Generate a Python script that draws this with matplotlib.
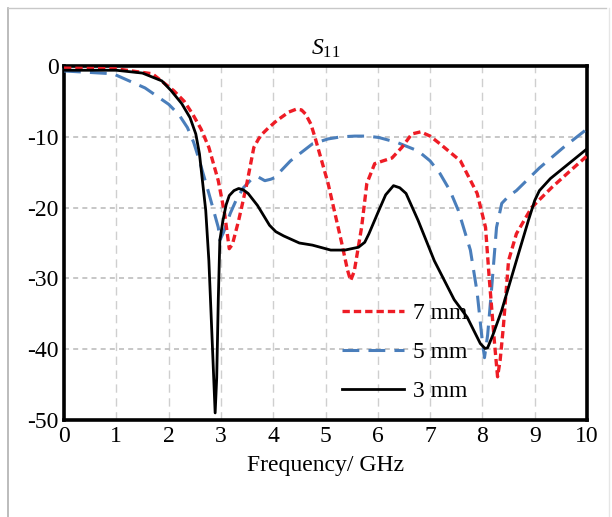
import matplotlib
matplotlib.use("Agg")
import matplotlib.pyplot as plt
from matplotlib.lines import Line2D

plt.rcParams['font.family'] = ['Liberation Serif', 'DejaVu Serif']
plt.rcParams['mathtext.fontset'] = 'custom'
plt.rcParams['mathtext.rm'] = 'Liberation Serif'
plt.rcParams['mathtext.it'] = 'Liberation Serif:italic'
plt.rcParams['axes.unicode_minus'] = False

# ---- data ----
f_3mm = [0, 1, 1.5, 1.87, 2.05, 2.25, 2.41, 2.52, 2.59, 2.71, 2.77, 2.84, 2.89, 2.92, 2.95, 2.98, 3.04, 3.1, 3.16,
         3.25, 3.34, 3.43, 3.52, 3.7, 3.93, 4.05, 4.2, 4.5, 4.75, 5.1, 5.37, 5.63, 5.75, 5.83, 6.02, 6.15, 6.3, 6.42, 6.54, 6.77,
         7.08, 7.46, 7.71, 7.96, 8.05, 8.1, 8.2, 8.37, 8.65, 8.88, 9.0, 9.09, 9.3, 9.55, 10]
s_3mm = [-0.6, -0.6, -1.0, -2.1, -3.5, -5.3, -7.3, -9.6, -12.4, -20.4, -27.5, -40, -49, -44, -33, -24.6, -21.8, -19.6, -18.3,
         -17.6, -17.3, -17.5, -18.0, -19.7, -22.5, -23.4, -24.0, -25.0, -25.3, -26.0, -26.0, -25.6, -24.9, -23.7, -20.4, -18.2, -16.9, -17.2, -18.0, -21.8,
         -27.5, -33.0, -35.5, -39.2, -39.9, -39.8, -38.0, -34.5, -27.5, -21.8, -19.0, -17.6, -15.9, -14.4, -11.7]

f_5mm = [0, 0.94, 1.55, 2.0, 2.2, 2.36, 2.48, 2.59, 2.77, 2.95, 2.98, 3.05, 3.18, 3.3, 3.43, 3.61, 3.72, 3.84, 3.95, 4.02, 4.33,
         4.75, 5.05, 5.3, 5.56, 5.8, 6.02, 6.37, 6.77, 7.0, 7.19, 7.38, 7.54, 7.77, 7.9, 8.0, 8.04, 8.1, 8.17, 8.27, 8.37,
         8.5, 8.65, 9.09, 9.55, 10]
s_5mm = [-0.7, -1.1, -3.1, -5.4, -6.9, -8.7, -10.8, -13.4, -18.0, -22.8, -24.6, -23.5, -20.8, -18.8, -17.2, -15.8, -15.7, -16.2, -16.0, -15.8, -13.4,
         -11.0, -10.3, -10.0, -9.9, -9.9, -10.1, -10.8, -12.0, -13.4, -15.2, -17.6, -20.4, -26.0, -32.0, -39.0, -41.2, -38.0, -32.0, -22.8, -19.4,
         -18.4, -17.6, -14.4, -11.5, -8.9]

f_7mm = [0, 1.0, 1.69, 2.1, 2.3, 2.46, 2.62, 2.77, 2.95, 3.07, 3.16, 3.22, 3.34, 3.48, 3.63, 3.72, 3.79, 3.9, 4.07, 4.3, 4.44,
         4.54, 4.62, 4.72, 4.8, 5.05, 5.31, 5.42, 5.48, 5.55, 5.69, 5.79, 5.94, 6.1, 6.27, 6.46, 6.65, 6.82, 7.0, 7.19, 7.58, 7.9,
         8.06, 8.13, 8.23, 8.29, 8.34, 8.4, 8.5, 8.65, 8.94, 9.32, 9.68, 10]
s_7mm = [-0.3, -0.4, -1.1, -3.5, -5.0, -6.8, -8.9, -11.5, -16.2, -20.8, -25.8, -25.2, -21.8, -17.2, -11.5, -10.3, -9.6, -8.8, -7.7, -6.5, -6.1,
         -6.2, -6.8, -8.2, -10.1, -16.6, -25.0, -28.8, -30.3, -29.0, -22.8, -16.6, -13.8, -13.4, -13.0, -11.5, -9.6, -9.3, -9.9, -11.0, -13.4, -18.0,
         -22.8, -29.9, -39.0, -43.9, -41.5, -36.9, -27.5, -23.7, -20.0, -17.2, -14.8, -12.7]

labels = ['7 mm', '5 mm', '3 mm']
xticks = list(range(0, 11))
yticks = [0, -10, -20, -30, -40, -50]

# ---- figure ----
fig = plt.figure(figsize=(6.12, 5.17), dpi=100)
ax = fig.add_axes([64/612, 1-420/517, (587-64)/612, (420-66)/517])

ax.plot(f_7mm, s_7mm, color='#ee1c25', lw=2.4, ls=(0, (2.2, 1.2)), label=labels[0], zorder=4)
ax.plot(f_5mm, s_5mm, color='#4a7ebb', lw=2.2, ls=(0, (5.5, 3.0)), label=labels[1], zorder=3)
ax.plot(f_3mm, s_3mm, color='black', lw=2.0, ls='-', label=labels[2], zorder=5)

ax.set_xlim(0, 10)
ax.set_ylim(-50, 0)
ax.set_xticks(xticks)
ax.set_xticklabels([str(t) for t in xticks])
ax.set_yticks(yticks)
ax.set_yticklabels([str(t) for t in yticks])
ax.tick_params(axis='both', length=0, labelsize=17, pad=4)
ax.grid(True, axis='x', color='#cfcfcf', ls=(0, (6, 4)), lw=1.0)
ax.grid(True, axis='y', color='#bdbdbd', ls=(0, (3, 2.5)), lw=1.2)
ax.set_axisbelow(True)
for sp in ax.spines.values():
    sp.set_linewidth(2.6)
    sp.set_color('black')

ax.set_title(r'$S_{11}$', fontsize=17, pad=8)
ax.set_xlabel('Frequency/ GHz', fontsize=17, labelpad=6)

leg = ax.legend(loc='lower left', bbox_to_anchor=(0.505, 0.01), frameon=False,
                fontsize=17, handlelength=2.6, labelspacing=0.75, handletextpad=0.4,
                borderaxespad=0.2)

# faint page frame
fig.add_artist(Line2D([8/612, 8/612], [0, 1-8/517], color='#b0b0b0', lw=1.2,
                      transform=fig.transFigure))
fig.add_artist(Line2D([8/612, 606/612], [1-8/517, 1-8/517], color='#c8c8c8', lw=1.0,
                      transform=fig.transFigure))
fig.add_artist(Line2D([609/612, 609/612], [0, 1-8/517], color='#e6e6e6', lw=1.0,
                      transform=fig.transFigure))

fig.savefig('out.png', dpi=100)
